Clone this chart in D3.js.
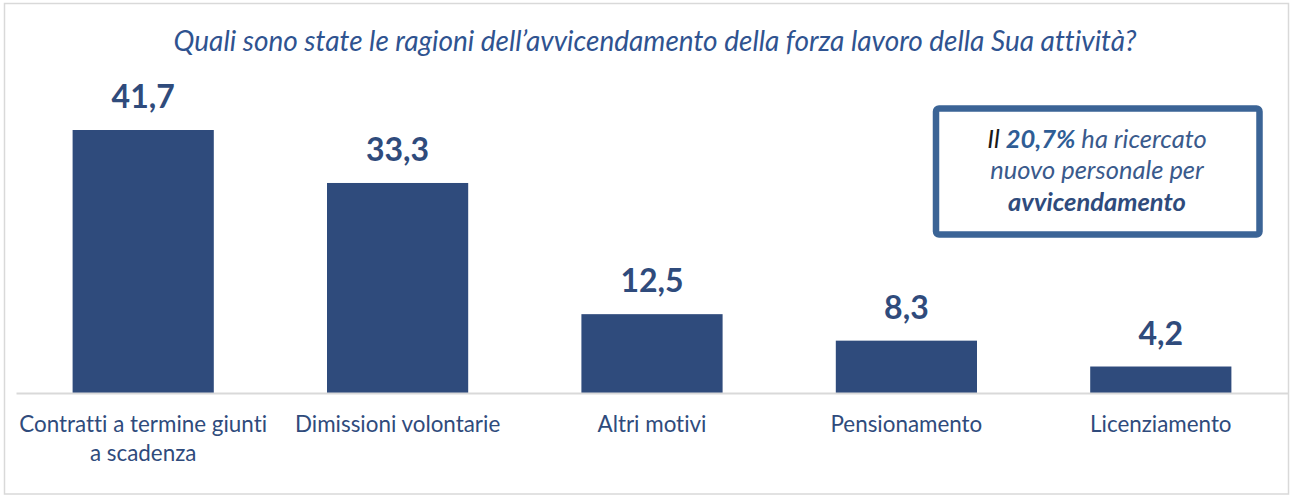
<!DOCTYPE html>
<html>
<head>
<meta charset="utf-8">
<script src="https://cdn.jsdelivr.net/npm/d3@7"></script>
<style>
  html, body { margin: 0; padding: 0; background: #fff; }
  svg { display: block; font-family: Lato, "Open Sans", sans-serif; font-variant-ligatures: none; }
</style>
</head>
<body>
<svg id="chart" width="1291" height="496"></svg>
<script>
// Reasons for workforce turnover (%)
const categories = [
  ["Contratti a termine giunti", "a scadenza"],
  ["Dimissioni volontarie"],
  ["Altri motivi"],
  ["Pensionamento"],
  ["Licenziamento"]
];
const values = [41.7, 33.3, 12.5, 8.3, 4.2];
const valueLabels = ["41,7", "33,3", "12,5", "8,3", "4,2"];
const title = "Quali sono state le ragioni dell’avvicendamento della forza lavoro della Sua attività?";

const W = 1291, H = 496;
const svg = d3.select("#chart");

const barColor = "#2F4B7C";
const textColor = "#2F4B7C";

// outer frame
svg.append("rect")
  .attr("x", 4.5).attr("y", 3.5)
  .attr("width", 1284).attr("height", 490.5)
  .attr("fill", "none").attr("stroke", "#D9D9D9").attr("stroke-width", 1.5);

// title
svg.append("text")
  .attr("x", 655).attr("y", 51)
  .attr("text-anchor", "middle")
  .attr("font-style", "italic")
  .attr("font-size", 28)
  .attr("fill", "#2F5390")
  .text(title);

const idx = d3.range(values.length);
const x = d3.scaleBand().domain(idx).range([16, 1288]).paddingInner(0.445).paddingOuter(0.2225);
const y = d3.scaleLinear().domain([0, 41.7]).range([393, 130]);

// bars
svg.append("g").selectAll("rect")
  .data(idx).join("rect")
  .attr("x", i => x(i))
  .attr("y", i => y(values[i]))
  .attr("width", x.bandwidth())
  .attr("height", i => y(0) - y(values[i]))
  .attr("fill", barColor);

// value labels
svg.append("g").selectAll("text")
  .data(idx).join("text")
  .attr("x", i => x(i) + x.bandwidth() / 2)
  .attr("y", i => y(values[i]) - 22)
  .attr("text-anchor", "middle")
  .attr("font-weight", "bold")
  .attr("font-size", 32)
  .attr("fill", textColor)
  .text(i => valueLabels[i]);

// category axis
const axis = d3.axisBottom(x).tickSize(0).tickFormat("");
const gAxis = svg.append("g").attr("transform", `translate(0,${y(0)})`).call(axis);
gAxis.select(".domain").attr("stroke", "#D9D9D9").attr("stroke-width", 2);

// category labels
const cat = svg.append("g").selectAll("text")
  .data(idx).join("text")
  .attr("x", i => x(i) + x.bandwidth() / 2)
  .attr("y", 432)
  .attr("text-anchor", "middle")
  .attr("font-size", 22.4)
  .attr("fill", textColor);
cat.selectAll("tspan")
  .data(i => categories[i].map(t => ({ t, cx: x(i) + x.bandwidth() / 2 })))
  .join("tspan")
  .attr("x", d => d.cx)
  .attr("dy", (d, j) => j === 0 ? 0 : 29)
  .text(d => d.t);

// callout box
svg.append("rect")
  .attr("x", 936).attr("y", 108.5)
  .attr("width", 323.5).attr("height", 126)
  .attr("rx", 3)
  .attr("fill", "#fff").attr("stroke", "#3B6496").attr("stroke-width", 6.5);

const boxCx = 1097;
const boxLines = [
  [["Il ", "normal", "#1a1a1a"], ["20,7%", "bold", "#2F5D95"], [" ha ricercato", "normal", "#3A5A8C"]],
  [["nuovo personale per", "normal", "#3A5A8C"]],
  [["avvicendamento", "bold", "#2F4B7C"]]
];
const boxBase = [148, 179, 211];
boxLines.forEach((parts, li) => {
  const t = svg.append("text")
    .attr("x", boxCx).attr("y", boxBase[li])
    .attr("text-anchor", "middle")
    .attr("font-style", "italic")
    .attr("font-size", 25.5);
  parts.forEach(([s, w, c]) => {
    t.append("tspan").attr("font-weight", w).attr("fill", c).text(s);
  });
});
</script>
</body>
</html>
